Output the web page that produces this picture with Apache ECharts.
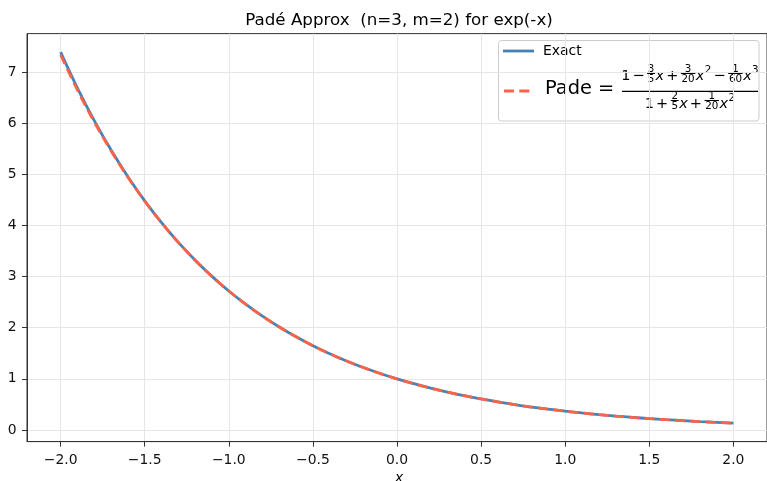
<!DOCTYPE html>
<html>
<head>
<meta charset="utf-8">
<script src="https://cdn.jsdelivr.net/npm/echarts@6/dist/echarts.min.js"></script>
<style>
  html, body { margin: 0; padding: 0; background: #fff; }
  #chart { width: 767px; height: 481px; }
</style>
</head>
<body>
<div id="chart"></div>
<script>
// x 값 (-2.0 ~ 2.0, 0.1 간격)
var xs = [-2.0, -1.9, -1.8, -1.7, -1.6, -1.5, -1.4, -1.3, -1.2, -1.1,
          -1.0, -0.9, -0.8, -0.7, -0.6, -0.5, -0.4, -0.3, -0.2, -0.1,
           0.0,  0.1,  0.2,  0.3,  0.4,  0.5,  0.6,  0.7,  0.8,  0.9,
           1.0,  1.1,  1.2,  1.3,  1.4,  1.5,  1.6,  1.7,  1.8,  1.9, 2.0];

// exp(-x) 곡선 값
var exactVals = [7.389, 6.686, 6.050, 5.474, 4.953, 4.482, 4.055, 3.669, 3.320, 3.004,
                 2.718, 2.460, 2.226, 2.014, 1.822, 1.649, 1.492, 1.350, 1.221, 1.105,
                 1.000, 0.905, 0.819, 0.741, 0.670, 0.607, 0.549, 0.497, 0.449, 0.407,
                 0.368, 0.333, 0.301, 0.273, 0.247, 0.223, 0.202, 0.183, 0.165, 0.150, 0.135];

// Pade 근사 곡선 값
var padeVals = [7.333, 6.649, 6.025, 5.458, 4.943, 4.476, 4.052, 3.667, 3.319, 3.004,
                2.718, 2.459, 2.226, 2.014, 1.822, 1.649, 1.492, 1.350, 1.221, 1.105,
                1.000, 0.905, 0.819, 0.741, 0.670, 0.607, 0.549, 0.497, 0.449, 0.407,
                0.368, 0.333, 0.301, 0.272, 0.246, 0.223, 0.201, 0.182, 0.164, 0.148, 0.133];

// 눈금
var xTicks = [-2.0, -1.5, -1.0, -0.5, 0.0, 0.5, 1.0, 1.5, 2.0];
var yTicks = [0, 1, 2, 3, 4, 5, 6, 7];

var FONT = '"DejaVu Sans", sans-serif';
var BLUE = '#4682b4';
var RED = '#ff6347';

function zip(a, b) {
  return a.map(function (v, i) { return [v, b[i]]; });
}

// 수식 레이아웃 (글자 폭 측정)
var ctx = document.createElement('canvas').getContext('2d');
function tw(s, size, italic) {
  ctx.font = (italic ? 'italic ' : '') + size + 'px ' + FONT;
  return ctx.measureText(s).width;
}

function mathRow(tokens, cx, y, F, S) {
  var G = 0.14 * F, P = 1.2;
  var widths = tokens.map(function (t) {
    if (t[0] === 'n') return tw(t[1], F);
    if (t[0] === 'v') return tw(t[1], F, true);
    if (t[0] === 'o') return tw(t[1], F) + 2 * G;
    if (t[0] === 'f') return Math.max(tw(t[1], S), tw(t[2], S)) + 2 * P;
    return tw(t[1], S) + 0.5;
  });
  var W = widths.reduce(function (a, b) { return a + b; }, 0);
  var x = cx - W / 2;
  var els = [];
  tokens.forEach(function (t, i) {
    var w = widths[i];
    if (t[0] === 'n' || t[0] === 'v') {
      els.push({ type: 'text', x: x, y: y, style: { text: t[1], fill: '#000',
        font: (t[0] === 'v' ? 'italic ' : '') + F + 'px ' + FONT, align: 'left', verticalAlign: 'middle' } });
    } else if (t[0] === 'o') {
      els.push({ type: 'text', x: x + G, y: y, style: { text: t[1], fill: '#000',
        font: F + 'px ' + FONT, align: 'left', verticalAlign: 'middle' } });
    } else if (t[0] === 'f') {
      var bar = Math.round(y - 4) + 0.5;
      els.push({ type: 'rect', shape: { x: x + 0.5, y: bar - 0.5, width: w - 1, height: 1 },
        style: { fill: '#000' }, z: 10 });
      els.push({ type: 'text', x: x + w / 2, y: bar - 4.1, style: { text: t[1], fill: '#000',
        font: S + 'px ' + FONT, align: 'center', verticalAlign: 'middle' } });
      els.push({ type: 'text', x: x + w / 2, y: bar + 5.5, style: { text: t[2], fill: '#000',
        font: S + 'px ' + FONT, align: 'center', verticalAlign: 'middle' } });
    } else {
      els.push({ type: 'text', x: x + 0.3, y: y - 6.2, style: { text: t[1], fill: '#000',
        font: S + 'px ' + FONT, align: 'left', verticalAlign: 'middle' } });
    }
    x += w;
  });
  return els;
}

var numTokens = [['n', '1'], ['o', '\u2212'], ['f', '3', '5'], ['v', 'x'], ['o', '+'],
                 ['f', '3', '20'], ['v', 'x'], ['s', '2'], ['o', '\u2212'],
                 ['f', '1', '60'], ['v', 'x'], ['s', '3']];
var denTokens = [['n', '1'], ['o', '+'], ['f', '2', '5'], ['v', 'x'], ['o', '+'],
                 ['f', '1', '20'], ['v', 'x'], ['s', '2']];

var legendEls = [
  { type: 'rect', shape: { x: 498.5, y: 40.5, width: 260.5, height: 80.5, r: 3 },
    style: { fill: 'rgba(255,255,255,0.8)', stroke: '#cccccc', lineWidth: 1 } },
  { type: 'line', shape: { x1: 503, y1: 51, x2: 534, y2: 51 },
    style: { stroke: BLUE, lineWidth: 2.8 } },
  { type: 'text', x: 543, y: 51, style: { text: 'Exact', fill: '#000',
    font: '13.9px ' + FONT, align: 'left', verticalAlign: 'middle' } },
  { type: 'line', shape: { x1: 504, y1: 91, x2: 530, y2: 91 },
    style: { stroke: RED, lineWidth: 2.8, lineDash: [10, 5.3] } },
  { type: 'text', x: 545, y: 89, style: { text: 'Pade =', fill: '#000',
    font: '19.4px ' + FONT, align: 'left', verticalAlign: 'middle' } },
  { type: 'rect', shape: { x: 622, y: 90.8, width: 136, height: 1.1 },
    style: { fill: '#000' } }
].concat(mathRow(numTokens, 690, 76.7, 14.5, 10.3))
 .concat(mathRow(denTokens, 690, 104.4, 14.5, 10.3));

var chart = echarts.init(document.getElementById('chart'));

var option = {
  animation: false,
  grid: {
    left: 27, right: -4, top: 33.6, bottom: 39.4,
    show: true, borderColor: '#333', borderWidth: 1
  },
  xAxis: {
    type: 'value',
    min: -2.2,
    max: 2.2,
    axisLine: { show: true, onZero: false, lineStyle: { color: '#333', width: 1 } },
    axisTick: { show: true, length: 5, customValues: xTicks, lineStyle: { color: '#333' } },
    axisLabel: {
      customValues: xTicks,
      margin: 12,
      fontSize: 13.9,
      fontFamily: FONT,
      color: '#111',
      formatter: function (v) { return (v < 0 ? '\u2212' : '') + Math.abs(v).toFixed(1); }
    },
    splitLine: { show: true, lineStyle: { color: '#e6e6e6', width: 1 } }
  },
  yAxis: {
    type: 'value',
    min: -0.227,
    max: 7.752,
    axisLine: { show: true, onZero: false, lineStyle: { color: '#333', width: 1 } },
    axisTick: { show: true, length: 5, customValues: yTicks, lineStyle: { color: '#333' } },
    axisLabel: {
      customValues: yTicks,
      margin: 10.5,
      fontSize: 13.9,
      fontFamily: FONT,
      color: '#111',
      formatter: function (v) { return String(v); }
    },
    splitLine: { show: true, lineStyle: { color: '#e6e6e6', width: 1 } }
  },
  series: [
    {
      name: 'Exact',
      type: 'line',
      data: zip(xs, exactVals),
      symbol: 'none',
      smooth: 0.4,
      lineStyle: { color: BLUE, width: 2.8 }
    },
    {
      name: 'Pade',
      type: 'line',
      data: zip(xs, padeVals),
      symbol: 'none',
      smooth: 0.4,
      lineStyle: { color: RED, width: 2.8, type: [10, 5.3] }
    }
  ],
  graphic: [
    { type: 'text', x: 399, y: 20.5, style: { text: 'Padé Approx  (n=3, m=2) for exp(-x)',
      fill: '#000', font: '16.7px ' + FONT, align: 'center', verticalAlign: 'middle' } },
    { type: 'text', x: 399, y: 478.5, style: { text: 'x', fill: '#000',
      font: 'italic 13.9px ' + FONT, align: 'center', verticalAlign: 'middle' } },
    { type: 'group', children: legendEls }
  ]
};

chart.setOption(option);
</script>
</body>
</html>
